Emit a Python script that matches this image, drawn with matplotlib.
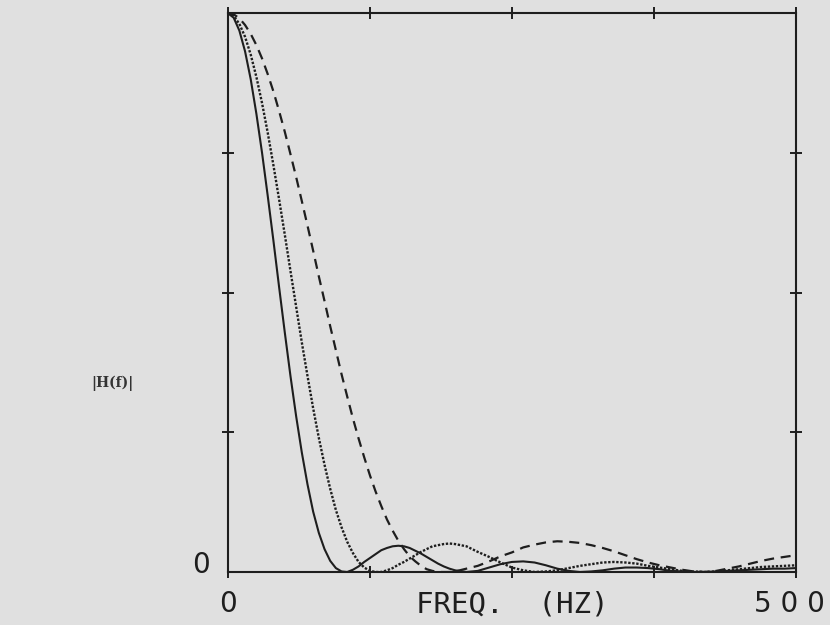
import matplotlib.pyplot as plt

# frequency grid (Hz) the curves were read at: 5 Hz steps to 200, then 10 Hz
freq = [0, 5, 10, 15, 20, 25, 30, 35, 40, 45, 50, 55, 60, 65, 70, 75, 80, 85, 90, 95,
        100, 105, 110, 115, 120, 125, 130, 135, 140, 145, 150, 155, 160, 165, 170, 175,
        180, 185, 190, 195, 200,
        210, 220, 230, 240, 250, 260, 270, 280, 290, 300, 310, 320, 330, 340, 350,
        360, 370, 380, 390, 400, 410, 420, 430, 440, 450, 460, 470, 480, 490, 500]

# |H(f)|, three filters
h_solid = [1.000, 0.992, 0.969, 0.932, 0.882, 0.820, 0.750, 0.673, 0.593, 0.510,
           0.429, 0.351, 0.279, 0.214, 0.157, 0.108, 0.070, 0.041, 0.020, 0.007,
           0.001, 0.000, 0.004, 0.010, 0.018, 0.025, 0.032, 0.039, 0.043, 0.046,
           0.047, 0.046, 0.043, 0.038, 0.033, 0.027, 0.021, 0.015, 0.010, 0.006, 0.003,
           0.000, 0.002, 0.008, 0.014, 0.018, 0.019, 0.017, 0.012, 0.006, 0.002,
           0.000, 0.001, 0.003, 0.006, 0.008, 0.008, 0.007, 0.005, 0.002, 0.001,
           0.000, 0.000, 0.001, 0.002, 0.003, 0.004, 0.005, 0.006, 0.006, 0.007]
h_dot = [1.000, 0.995, 0.981, 0.958, 0.926, 0.886, 0.839, 0.786, 0.728, 0.667,
         0.604, 0.539, 0.475, 0.411, 0.351, 0.293, 0.240, 0.192, 0.149, 0.111,
         0.080, 0.054, 0.034, 0.018, 0.008, 0.002, 0.000, 0.000, 0.003, 0.007,
         0.013, 0.018, 0.024, 0.030, 0.036, 0.041, 0.046, 0.048, 0.050, 0.051, 0.050,
         0.046, 0.036, 0.027, 0.017, 0.008, 0.003, 0.000, 0.001, 0.003, 0.007,
         0.011, 0.014, 0.017, 0.018, 0.017, 0.015, 0.011, 0.008, 0.005, 0.002,
         0.001, 0.000, 0.001, 0.003, 0.005, 0.007, 0.009, 0.010, 0.011, 0.012]
h_dash = [1.000, 0.998, 0.991, 0.979, 0.963, 0.943, 0.919, 0.891, 0.860, 0.825,
          0.788, 0.748, 0.707, 0.664, 0.620, 0.575, 0.529, 0.485, 0.440, 0.397,
          0.354, 0.314, 0.275, 0.239, 0.205, 0.173, 0.144, 0.118, 0.094, 0.074,
          0.056, 0.041, 0.028, 0.019, 0.011, 0.005, 0.002, 0.000, 0.000, 0.000, 0.001,
          0.006, 0.011, 0.019, 0.028, 0.035, 0.044, 0.049, 0.053, 0.055, 0.054,
          0.052, 0.048, 0.043, 0.037, 0.030, 0.023, 0.017, 0.012, 0.008, 0.004,
          0.001, 0.000, 0.002, 0.006, 0.010, 0.015, 0.020, 0.024, 0.027, 0.030]

bg = '#e0e0e0'
ink = '#1e1e1e'

fig = plt.figure(figsize=(8.3, 6.25), dpi=100, facecolor=bg)
ax = fig.add_axes([0.2747, 0.0848, 0.684, 0.894], facecolor=bg)

ax.plot(freq, h_solid, color=ink, linewidth=1.5)
ax.plot(freq, h_dot, color=ink, linewidth=1.7, linestyle=(0, (1.0, 0.7)))
ax.plot(freq, h_dash, color=ink, linewidth=1.6, linestyle=(0, (4.5, 3)))

ax.set_xlim(0, 500)
ax.set_ylim(0, 1)
ax.set_xticks([0, 125, 250, 375, 500])
ax.set_yticks([0.25, 0.5, 0.75])
ax.set_xticklabels([])
ax.set_yticklabels([])
ax.tick_params(axis='both', direction='inout', length=9, width=1.4, color=ink,
               top=True, right=True)
for s in ax.spines.values():
    s.set_linewidth(1.5)
    s.set_color(ink)

fig.text(201/830, 1-565/625, '0', fontsize=20, ha='center', va='center', color=ink)
fig.text(228/830, 1-604/625, '0', fontsize=20, ha='center', va='center', color=ink)
fig.text(789/830, 1-604/625, '5 0 0', fontsize=20, ha='center', va='center',
         color=ink, family='DejaVu Sans')
fig.text(512/830, 1-604/625, 'FREQ.  (HZ)', fontsize=21, ha='center', va='center',
         color=ink, family='DejaVu Sans Mono')
fig.text(112/830, 1-383/625, '|H(f)|', fontsize=10, ha='center', va='center',
         color='#333333', family='DejaVu Serif', weight='bold')

plt.savefig('out.png', dpi=100, facecolor=bg)
